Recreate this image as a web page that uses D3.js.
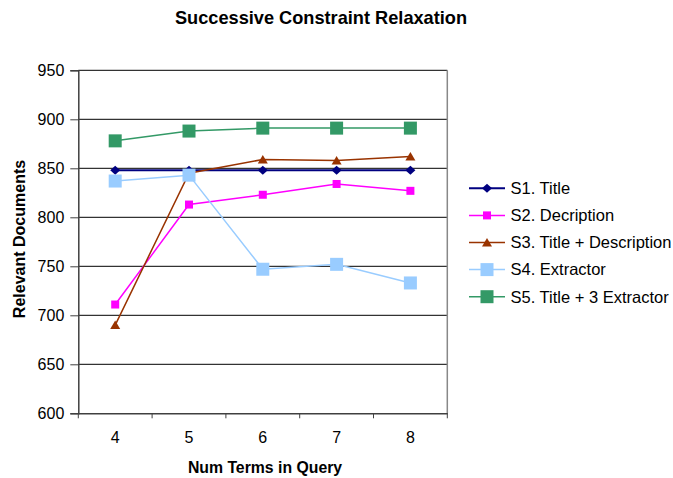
<!DOCTYPE html>
<html><head><meta charset="utf-8">
<script src="https://cdn.jsdelivr.net/npm/d3@7"></script>
<style>body{margin:0;background:#fff}svg{font-family:"Liberation Sans",Arial,sans-serif}</style>
</head><body><svg id="c" width="673" height="478"></svg>
<script>
const categories = ["4","5","6","7","8"];
const seriesNames = ["S1. Title","S2. Decription","S3. Title + Description","S4. Extractor","S5. Title + 3 Extractor"];
const s1 = [848,848,848,848,848];
const s2 = [711,813,823,834,827];
const s3 = [690,845,859,858,862];
const s4 = [837,843,747,752,733];
const s5 = [878,888,891,891,891];
const yTicks = [600,650,700,750,800,850,900,950];
const colors = ["#000080","#FF00FF","#993300","#99CCFF","#339966"];
const shapes = ["diamond","square","triangle","bigsquare","bigsquare"];
const allSeries = [s1,s2,s3,s4,s5];

const svg = d3.select("#c");
const L=78.3,R=447.3,T=70.3,B=413.3;
const x = d3.scaleBand().domain(categories).range([L,R]);
const y = d3.scaleLinear().domain([600,950]).range([B,T]);

// gridlines
svg.append("g").selectAll("line").data(yTicks.filter(d=>d>600)).join("line")
  .attr("x1",L).attr("x2",R).attr("y1",d=>y(d)).attr("y2",d=>y(d))
  .attr("stroke","#000").attr("stroke-width",1);
// right border
svg.append("line").attr("x1",R).attr("x2",R).attr("y1",T).attr("y2",B).attr("stroke","#888").attr("stroke-width",1.5);

// y axis
const ya = svg.append("g").attr("transform",`translate(${L},0)`)
  .call(d3.axisLeft(y).tickValues(yTicks).tickSize(8).tickPadding(6));
ya.select(".domain").attr("stroke","#404040").attr("stroke-width",1.5);
ya.selectAll(".tick line").attr("stroke","#404040");
ya.selectAll("text").attr("font-size",16).attr("fill","#000").attr("font-family","Liberation Sans, Arial");

// x axis
const xa = svg.append("g").attr("transform",`translate(0,${B})`)
  .call(d3.axisBottom(x).tickSize(0).tickPadding(18));
xa.select(".domain").attr("stroke","#404040").attr("stroke-width",1.5);
xa.selectAll("text").attr("font-size",16).attr("fill","#000").attr("font-family","Liberation Sans, Arial");
xa.selectAll(".bt").data(d3.range(categories.length+1)).join("line")
  .attr("x1",i=>L+i*x.bandwidth()).attr("x2",i=>L+i*x.bandwidth()).attr("y1",0).attr("y2",5)
  .attr("stroke","#404040");

function marker(g, shape, color, cx, cy){
  if(shape==="diamond"){
    g.append("path").attr("d",`M${cx},${cy-4.5}L${cx+5},${cy}L${cx},${cy+4.5}L${cx-5},${cy}Z`).attr("fill",color);
  } else if(shape==="square"){
    g.append("rect").attr("x",cx-4).attr("y",cy-4).attr("width",8).attr("height",8).attr("fill",color);
  } else if(shape==="triangle"){
    g.append("path").attr("d",`M${cx},${cy-4.5}L${cx+5},${cy+4}L${cx-5},${cy+4}Z`).attr("fill",color);
  } else {
    g.append("rect").attr("x",cx-6.5).attr("y",cy-6.5).attr("width",13).attr("height",13).attr("fill",color);
  }
}

const line = d3.line().x((d,i)=>x(categories[i])+x.bandwidth()/2).y(d=>y(d));
allSeries.forEach((s,k)=>{
  svg.append("path").datum(s).attr("d",line).attr("fill","none").attr("stroke",colors[k]).attr("stroke-width",k===0?2:1.5);
});
allSeries.forEach((s,k)=>{
  const g = svg.append("g");
  s.forEach((v,i)=>marker(g,shapes[k],colors[k],x(categories[i])+x.bandwidth()/2,y(v)));
});

// legend
const lg = svg.append("g");
seriesNames.forEach((n,k)=>{
  const ly = 188.3 + k*27.1;
  lg.append("line").attr("x1",469).attr("x2",505).attr("y1",ly).attr("y2",ly).attr("stroke",colors[k]).attr("stroke-width",k===0?2:1.5);
  marker(lg,shapes[k],colors[k],487,ly);
  lg.append("text").attr("x",510.5).attr("y",ly+5.8).attr("font-size",16.5).text(n);
});

// titles
svg.append("text").attr("x",321).attr("y",24).attr("text-anchor","middle").attr("font-size",18.2).attr("font-weight","bold").text("Successive Constraint Relaxation");
svg.append("text").attr("x",265).attr("y",473).attr("text-anchor","middle").attr("font-size",15.8).attr("font-weight","bold").text("Num Terms in Query");
svg.append("text").attr("transform","translate(25,239) rotate(-90)").attr("text-anchor","middle").attr("font-size",16).attr("font-weight","bold").text("Relevant Documents");
</script></body></html>
